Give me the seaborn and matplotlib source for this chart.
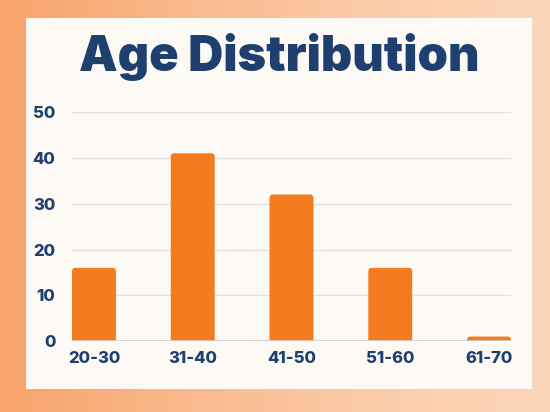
import numpy as np
import pandas as pd
import matplotlib
matplotlib.use("Agg")
import matplotlib.pyplot as plt
import seaborn as sns
from matplotlib.patches import Rectangle, FancyBboxPatch

age_groups = ["20-30", "31-40", "41-50", "51-60", "61-70"]
counts = [16, 41, 32, 16, 1]
y_ticks = [0, 10, 20, 30, 40, 50]

navy = "#1F3F6E"
bar_orange = "#F47B20"
panel_cream = "#FDFAF5"

sns.set_style("white")
plt.rcParams["font.family"] = ["Inter", "DejaVu Sans"]

df = pd.DataFrame({"age": age_groups, "count": counts})

fig = plt.figure(figsize=(5.5, 4.12), dpi=100)

# orange background: horizontal gradient from saturated to pale
bg = fig.add_axes([0, 0, 1, 1], zorder=-10)
grad = np.linspace(0, 1, 256).reshape(1, -1)
cmap = matplotlib.colors.LinearSegmentedColormap.from_list(
    "bg", ["#F7A36A", "#F9B98C", "#FBCBA8", "#FCD6BB"])
bg.imshow(grad, aspect="auto", cmap=cmap, extent=[0, 1, 0, 1])
bg.set_axis_off()

# cream panel
fig.patches.append(Rectangle((0.047, 0.056), 0.92, 0.90, transform=fig.transFigure,
                             facecolor=panel_cream, edgecolor="none", zorder=-5))

ax = fig.add_axes([0.131, 0.172, 0.798, 0.556])
ax.set_facecolor("none")
sns.barplot(data=df, x="age", y="count", color=bar_orange, width=0.445,
            saturation=1, ax=ax, zorder=3)

ax.set_xlim(-0.222, 4.222)
ax.set_ylim(0, 50)

# swap the square bars for ones with slightly rounded tops
aspect = (50 / 229) / (4.444 / 439)
for p in list(ax.patches):
    x0, w, h = p.get_x(), p.get_width(), p.get_height()
    p.remove()
    ax.add_patch(FancyBboxPatch((x0, -1), w, h + 1,
                                boxstyle="round,pad=0,rounding_size=0.035",
                                mutation_aspect=aspect, facecolor=bar_orange,
                                edgecolor="none", zorder=3))

ax.set_yticks(y_ticks)
ax.grid(axis="y", color="#E2E2E2", linewidth=1, zorder=0)
ax.axhline(0, color="#CFCFCF", linewidth=1.2, zorder=4)
sns.despine(ax=ax, left=True, bottom=True)
ax.tick_params(length=0)
ax.tick_params(axis="y", pad=12)
ax.tick_params(axis="x", pad=7)
for lbl in ax.get_xticklabels() + ax.get_yticklabels():
    lbl.set_fontsize(12)
    lbl.set_fontweight("heavy")
    lbl.set_color(navy)
ax.set_xlabel("")
ax.set_ylabel("")

fig.text(0.507, 0.862, "Age Distribution", ha="center", va="center",
         fontsize=35, fontweight="black", color=navy)

fig.savefig("out.png", dpi=100)
